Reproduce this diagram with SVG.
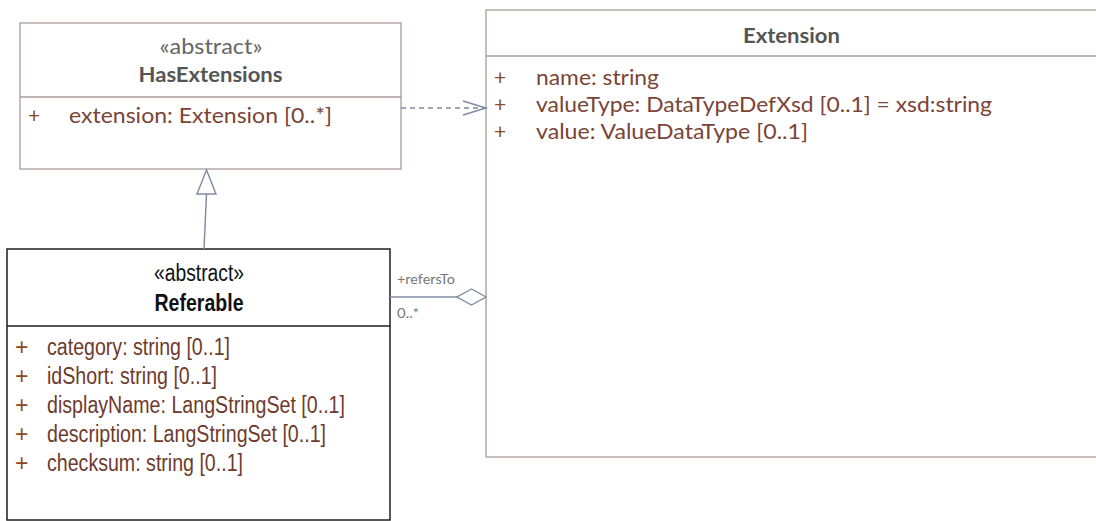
<svg xmlns="http://www.w3.org/2000/svg" width="1096" height="521" viewBox="0 0 1096 521">
<style>
.box{fill:#ffffff;stroke:#a89a9a;stroke-width:1.3}
.rbox{fill:#ffffff;stroke:#1e1e1e;stroke-width:1.5}
.div{stroke:#a89a9a;stroke-width:1.3}
.rdiv{stroke:#1e1e1e;stroke-width:1.5}
.cal{font-family:Lato,"Open Sans","Liberation Sans",sans-serif;font-size:21px}
.ari{font-family:"Liberation Sans",Arial,sans-serif;font-size:23px}
.st{fill:#666666}
.ttl{fill:#555555;font-weight:bold}
.att{fill:#7a4436}
.plus{fill:#8a4a24}
.rtxt{fill:#111111}
.ratt{fill:#6e3a2c}
.lbl{font-family:Lato,"Open Sans","Liberation Sans",sans-serif;font-size:13px;fill:#777777}
.con{fill:none;stroke:#7f8aa0;stroke-width:1.4}
</style>
<g id="HasExtensions">
<rect class="box" x="20" y="23" width="381" height="146"/>
<line class="div" x1="20" y1="97" x2="401" y2="97"/>
<text class="cal st" x="211" y="54" text-anchor="middle" textLength="103" lengthAdjust="spacingAndGlyphs">«abstract»</text>
<text class="cal ttl" x="210.5" y="82" text-anchor="middle" textLength="144" lengthAdjust="spacingAndGlyphs">HasExtensions</text>
<text class="cal plus" x="28" y="123">+</text>
<text class="cal att" x="69" y="123" textLength="263" lengthAdjust="spacingAndGlyphs">extension: Extension [0..*]</text>
</g>
<g id="Extension">
<rect class="box" x="486" y="10" width="620" height="447"/>
<line class="div" x1="486" y1="56" x2="1100" y2="56"/>
<text class="cal ttl" x="791.5" y="43" text-anchor="middle" textLength="97" lengthAdjust="spacingAndGlyphs">Extension</text>
<text class="cal plus" x="494" y="85">+</text>
<text class="cal att" x="536" y="85" textLength="123" lengthAdjust="spacingAndGlyphs">name: string</text>
<text class="cal plus" x="494" y="112">+</text>
<text class="cal att" x="536" y="112" textLength="456" lengthAdjust="spacingAndGlyphs">valueType: DataTypeDefXsd [0..1] = xsd:string</text>
<text class="cal plus" x="494" y="139">+</text>
<text class="cal att" x="536" y="139" textLength="272" lengthAdjust="spacingAndGlyphs">value: ValueDataType [0..1]</text>
</g>
<g id="Referable">
<rect class="rbox" x="7" y="249" width="383" height="271"/>
<line class="rdiv" x1="7" y1="326" x2="390" y2="326"/>
<text class="ari rtxt" x="199" y="281" text-anchor="middle" textLength="90" lengthAdjust="spacingAndGlyphs">«abstract»</text>
<text class="ari rtxt" x="199" y="311" text-anchor="middle" font-weight="bold" font-size="24" textLength="89" lengthAdjust="spacingAndGlyphs">Referable</text>
<text class="ari plus" x="15" y="355">+</text>
<text class="ari ratt" x="47" y="355" textLength="183" lengthAdjust="spacingAndGlyphs">category: string [0..1]</text>
<text class="ari plus" x="15" y="384">+</text>
<text class="ari ratt" x="47" y="384" textLength="170" lengthAdjust="spacingAndGlyphs">idShort: string [0..1]</text>
<text class="ari plus" x="15" y="413">+</text>
<text class="ari ratt" x="47" y="413" textLength="298" lengthAdjust="spacingAndGlyphs">displayName: LangStringSet [0..1]</text>
<text class="ari plus" x="15" y="442">+</text>
<text class="ari ratt" x="47" y="442" textLength="279" lengthAdjust="spacingAndGlyphs">description: LangStringSet [0..1]</text>
<text class="ari plus" x="15" y="471">+</text>
<text class="ari ratt" x="47" y="471" textLength="196" lengthAdjust="spacingAndGlyphs">checksum: string [0..1]</text>
</g>
<g id="connectors">
<line class="con" x1="401" y1="108" x2="484" y2="108" stroke-dasharray="5,4"/>
<polyline class="con" points="463,101 486,108 463,115"/>
<line class="con" x1="204" y1="249" x2="206.5" y2="194"/>
<polygon class="con" points="206.5,170 197,194 216,194" style="fill:#ffffff"/>
<line class="con" x1="390" y1="297" x2="457" y2="297"/>
<polygon class="con" points="486,297 471.5,289 457,297 471.5,305" style="fill:#ffffff"/>
<text class="lbl" x="397" y="284" textLength="58" lengthAdjust="spacingAndGlyphs">+refersTo</text>
<text class="lbl" x="397" y="318" textLength="22" lengthAdjust="spacingAndGlyphs">0..*</text>
</g>
</svg>
